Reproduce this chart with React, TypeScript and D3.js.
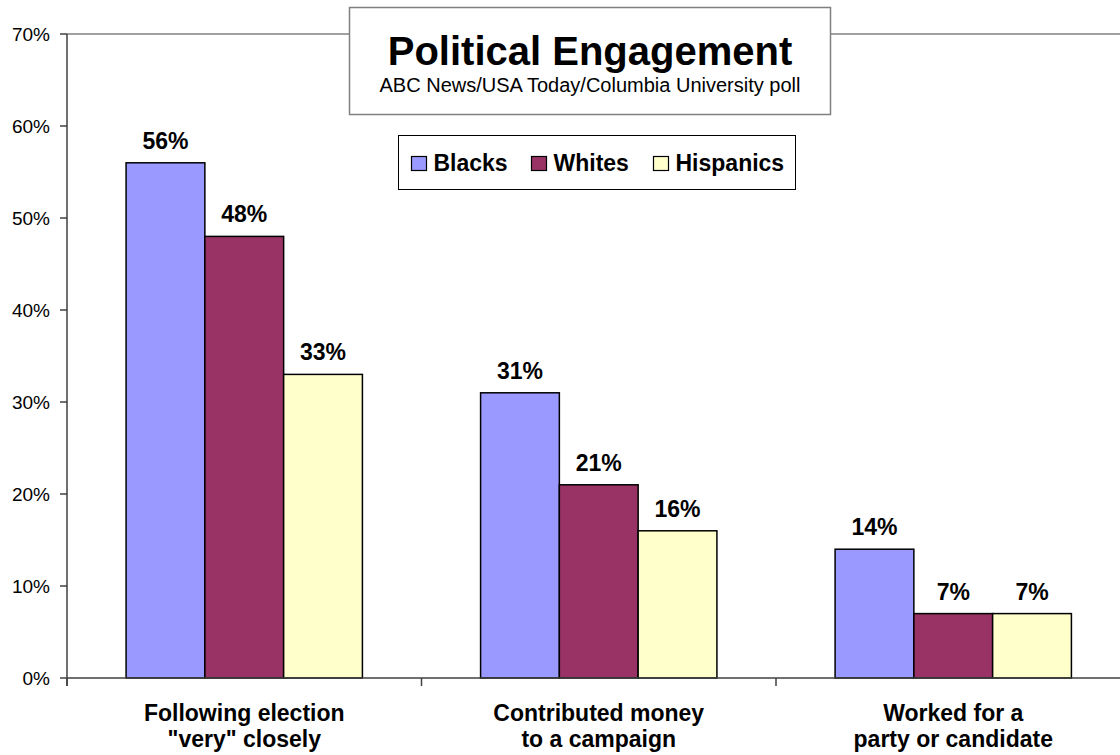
import React from "react";
import * as d3 from "d3";

const categories: string[][] = [
  ["Following election", "\"very\" closely"],
  ["Contributed money", "to a campaign"],
  ["Worked for a", "party or candidate"],
];
const seriesNames = ["Blacks", "Whites", "Hispanics"];
const seriesColors = ["#9999FF", "#993366", "#FFFFCC"];
const blacks = [56, 31, 14];
const whites = [48, 21, 7];
const hispanics = [33, 16, 7];
const yTicks = [0, 10, 20, 30, 40, 50, 60, 70];

const title = "Political Engagement";
const subtitle = "ABC News/USA Today/Columbia University poll";

export default function App() {
  const W = 1120;
  const H = 755;
  const left = 67;
  const top = 34;
  const bottom = 678;
  const right = 1130.5;
  const font = "Arial, 'Liberation Sans', Helvetica, sans-serif";

  const values = [blacks, whites, hispanics];
  const catIdx = categories.map((_, i) => String(i));
  const x = d3.scaleBand<string>().domain(catIdx).range([left, right]).padding(0);
  const bw = x.bandwidth();
  const barW = bw / 4.5;
  const xs = d3
    .scaleBand<string>()
    .domain(seriesNames)
    .range([barW * 0.75, bw - barW * 0.75])
    .padding(0);
  const y = d3.scaleLinear().domain([0, 70]).range([bottom, top]);

  const legendX = [411.5, 531.5, 653.5];

  return (
    <svg
      width={W}
      height={H}
      style={{ position: "absolute", left: 0, top: 0, background: "#fff" }}
      fontFamily={font}
    >
      {/* plot top border */}
      <line x1={left} x2={right} y1={y(70)} y2={y(70)} stroke="#808080" strokeWidth={1.5} />
      {/* y axis */}
      <line x1={left} x2={left} y1={y(70)} y2={bottom + 8} stroke="#404040" strokeWidth={1.5} />
      {yTicks.map((t) => (
        <g key={t}>
          <line x1={left - 7} x2={left} y1={y(t)} y2={y(t)} stroke="#404040" strokeWidth={1.5} />
          <text x={50} y={y(t)} dy="0.35em" textAnchor="end" fontSize={19} fill="#000">
            {t}%
          </text>
        </g>
      ))}
      {/* bars */}
      {catIdx.map((c, ci) => (
        <g key={c} transform={`translate(${x(c)},0)`}>
          {seriesNames.map((s, si) => {
            const v = values[si][ci];
            const bx = xs(s) as number;
            return (
              <g key={s}>
                <rect
                  x={bx}
                  y={y(v)}
                  width={xs.bandwidth()}
                  height={bottom - y(v)}
                  fill={seriesColors[si]}
                  stroke="#000"
                  strokeWidth={1.5}
                />
                <text
                  x={bx + xs.bandwidth() / 2}
                  y={y(v) - 14}
                  textAnchor="middle"
                  fontSize={23}
                  fontWeight="bold"
                  fill="#000"
                >
                  {v}%
                </text>
              </g>
            );
          })}
        </g>
      ))}
      {/* x axis */}
      <line x1={left} x2={right} y1={bottom} y2={bottom} stroke="#404040" strokeWidth={1.5} />
      {catIdx.map((c) => (
        <line
          key={"t" + c}
          x1={(x(c) as number)}
          x2={(x(c) as number)}
          y1={bottom}
          y2={bottom + 8}
          stroke="#404040"
          strokeWidth={1.5}
        />
      ))}
      {categories.map((lines, ci) => (
        <text
          key={"c" + ci}
          x={(x(String(ci)) as number) + bw / 2}
          textAnchor="middle"
          fontSize={23}
          fontWeight="bold"
          fill="#000"
        >
          {lines.map((l, li) => (
            <tspan key={li} x={(x(String(ci)) as number) + bw / 2} y={721 + li * 26}>
              {l}
            </tspan>
          ))}
        </text>
      ))}
      {/* title box */}
      <rect x={349.5} y={7.5} width={481} height={107} fill="#fff" stroke="#808080" strokeWidth={1.5} />
      <text x={590} y={65} textAnchor="middle" fontSize={40} fontWeight="bold" fill="#000">
        {title}
      </text>
      <text x={590} y={91.5} textAnchor="middle" fontSize={20} fill="#000">
        {subtitle}
      </text>
      {/* legend */}
      <rect x={398.5} y={135.5} width={397} height={54} fill="#fff" stroke="#000" strokeWidth={1} />
      {seriesNames.map((s, si) => (
        <g key={"l" + s}>
          <rect
            x={legendX[si]}
            y={156.5}
            width={15}
            height={14}
            fill={seriesColors[si]}
            stroke="#000"
            strokeWidth={1.2}
          />
          <text x={legendX[si] + 22} y={171} fontSize={23} fontWeight="bold" fill="#000">
            {s}
          </text>
        </g>
      ))}
    </svg>
  );
}
